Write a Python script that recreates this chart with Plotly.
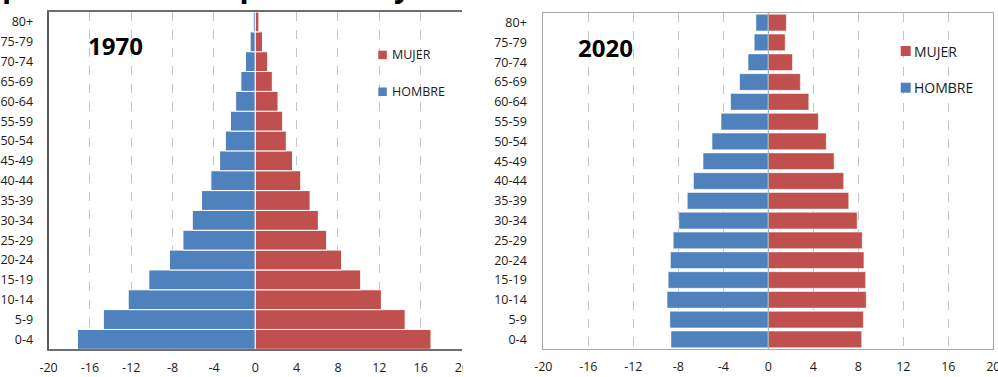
import plotly.graph_objects as go

# Age groups, youngest at the bottom
age_groups = ["0-4", "5-9", "10-14", "15-19", "20-24", "25-29", "30-34", "35-39",
              "40-44", "45-49", "50-54", "55-59", "60-64", "65-69", "70-74", "75-79", "80+"]

# Share of total population (%) by sex, 1970
hombre_1970 = [17.2, 14.7, 12.3, 10.3, 8.3, 7.0, 6.1, 5.2, 4.3, 3.45, 2.9, 2.4, 1.9, 1.4, 0.95, 0.5, 0.2]
mujer_1970 = [17.0, 14.5, 12.2, 10.2, 8.35, 6.9, 6.1, 5.3, 4.4, 3.6, 3.0, 2.65, 2.2, 1.65, 1.2, 0.7, 0.35]

# Share of total population (%) by sex, 2020
hombre_2020 = [8.65, 8.75, 9.0, 8.9, 8.7, 8.45, 7.95, 7.2, 6.65, 5.8, 5.0, 4.2, 3.35, 2.55, 1.8, 1.25, 1.1]
mujer_2020 = [8.3, 8.45, 8.7, 8.65, 8.5, 8.35, 7.9, 7.15, 6.7, 5.85, 5.15, 4.45, 3.6, 2.85, 2.15, 1.5, 1.6]

# Horizontal axis ticks
x_tickvals = [-20, -16, -12, -8, -4, 0, 4, 8, 12, 16, 20]
x_ticktext = ["-20", "-16", "-12", "-8", "-4", "0", "4", "8", "12", "16", "20"]

W, H = 998, 377
BLUE = "#4F81BD"
RED = "#C0504D"
FONT = "Open Sans"


def fx(p):
    return p / W


def fy(p):
    return 1 - p / H


fig = go.Figure()

# 1970 pyramid: bars touch, separated by thin white edges
fig.add_trace(go.Bar(y=age_groups, x=[-v for v in hombre_1970], orientation="h", name="HOMBRE",
                     marker=dict(color=BLUE, line=dict(color="white", width=1)), width=1.0,
                     xaxis="x", yaxis="y", showlegend=False))
fig.add_trace(go.Bar(y=age_groups, x=mujer_1970, orientation="h", name="MUJER",
                     marker=dict(color=RED, line=dict(color="white", width=1)), width=1.0,
                     xaxis="x", yaxis="y", showlegend=False))

# 2020 pyramid: slightly thinner bars with gaps
fig.add_trace(go.Bar(y=age_groups, x=[-v for v in hombre_2020], orientation="h", name="HOMBRE",
                     marker=dict(color=BLUE, line=dict(color="white", width=0.5)), width=0.84,
                     xaxis="x2", yaxis="y2", showlegend=False))
fig.add_trace(go.Bar(y=age_groups, x=mujer_2020, orientation="h", name="MUJER",
                     marker=dict(color=RED, line=dict(color="white", width=0.5)), width=0.84,
                     xaxis="x2", yaxis="y2", showlegend=False))

tickfont = dict(family=FONT, size=12.5, color="#1a1a1a")

common_x = dict(range=[-20, 20], tickvals=x_tickvals, ticktext=x_ticktext, tickfont=tickfont,
                showgrid=True, gridcolor="#c4c4c4", griddash="dash", gridwidth=1,
                zeroline=False, ticks="", ticklabelstandoff=6, fixedrange=True,
                automargin=False, ticklabeloverflow="allow")
common_y = dict(type="category", categoryorder="array", categoryarray=age_groups,
                range=[-0.5, 16.5], tickfont=tickfont, showgrid=False, zeroline=False,
                ticks="", fixedrange=True, automargin=False)

fig.update_layout(
    width=W, height=H,
    margin=dict(l=0, r=0, t=0, b=0, autoexpand=False),
    paper_bgcolor="white", plot_bgcolor="white",
    barmode="relative",
    font=dict(family=FONT, color="#1a1a1a"),
    xaxis=dict(domain=[fx(48.6), fx(462.0)], anchor="y", showline=True, mirror=True,
               linecolor="#6e6e6e", linewidth=1.5, **common_x),
    yaxis=dict(domain=[fy(349.3), fy(12)], anchor="x", showline=True, mirror=False,
               linecolor="#595959", linewidth=2, ticklabelstandoff=11, **common_y),
    xaxis2=dict(domain=[fx(543.3), fx(993.3)], anchor="y2", showline=True, mirror=True,
                linecolor="#a6a6a6", linewidth=1, **common_x),
    yaxis2=dict(domain=[fy(349.3), fy(12.7)], anchor="x2", showline=True, mirror=True,
                linecolor="#a6a6a6", linewidth=1, ticklabelstandoff=13, **common_y),
)

shapes = [
    # vertical axis line at zero on the 2020 chart
    dict(type="line", xref="x2", yref="paper", x0=0, x1=0, y0=fy(349.3), y1=fy(12.7),
         line=dict(color="#a6a6a6", width=1), layer="above"),
    # edge of the left panel
    dict(type="rect", xref="paper", yref="paper", x0=fx(463), x1=fx(505), y0=0, y1=fy(352),
         fillcolor="white", line=dict(width=0), layer="above"),
]

# Legend swatches
def swatch(x0, y0, size, color):
    return dict(type="rect", xref="paper", yref="paper", x0=fx(x0), x1=fx(x0 + size),
                y0=fy(y0 + size), y1=fy(y0), fillcolor=color, line=dict(width=0), layer="above")

shapes += [
    swatch(378.3, 50.7, 8.5, RED), swatch(378.3, 87.5, 8.5, BLUE),
    swatch(900.7, 46.0, 10, RED), swatch(900.7, 82.7, 10, BLUE),
]

annotations = [
    dict(text="<b>pirámides de la población y su evolución</b>", xref="paper", yref="paper",
         x=0, y=fy(8), xanchor="left", yanchor="bottom", showarrow=False,
         font=dict(family=FONT, size=30, color="black")),
    dict(text="<b>1970</b>", xref="paper", yref="paper", x=fx(115.8), y=fy(45),
         xanchor="center", yanchor="middle", showarrow=False,
         font=dict(family=FONT, size=24, color="black")),
    dict(text="<b>2020</b>", xref="paper", yref="paper", x=fx(605.8), y=fy(47.5),
         xanchor="center", yanchor="middle", showarrow=False,
         font=dict(family=FONT, size=24, color="black")),
    dict(text="MUJER", xref="paper", yref="paper", x=fx(390), y=fy(55),
         xanchor="left", yanchor="middle", showarrow=False,
         font=dict(family=FONT, size=12.5, color="#1a1a1a")),
    dict(text="HOMBRE", xref="paper", yref="paper", x=fx(390), y=fy(91.7),
         xanchor="left", yanchor="middle", showarrow=False,
         font=dict(family=FONT, size=12.5, color="#1a1a1a")),
    dict(text="MUJER", xref="paper", yref="paper", x=fx(912), y=fy(51),
         xanchor="left", yanchor="middle", showarrow=False,
         font=dict(family=FONT, size=14, color="#1a1a1a")),
    dict(text="HOMBRE", xref="paper", yref="paper", x=fx(912), y=fy(87.7),
         xanchor="left", yanchor="middle", showarrow=False,
         font=dict(family=FONT, size=14, color="#1a1a1a")),
]

fig.update_layout(shapes=shapes, annotations=annotations)

fig.write_html("out.html")
